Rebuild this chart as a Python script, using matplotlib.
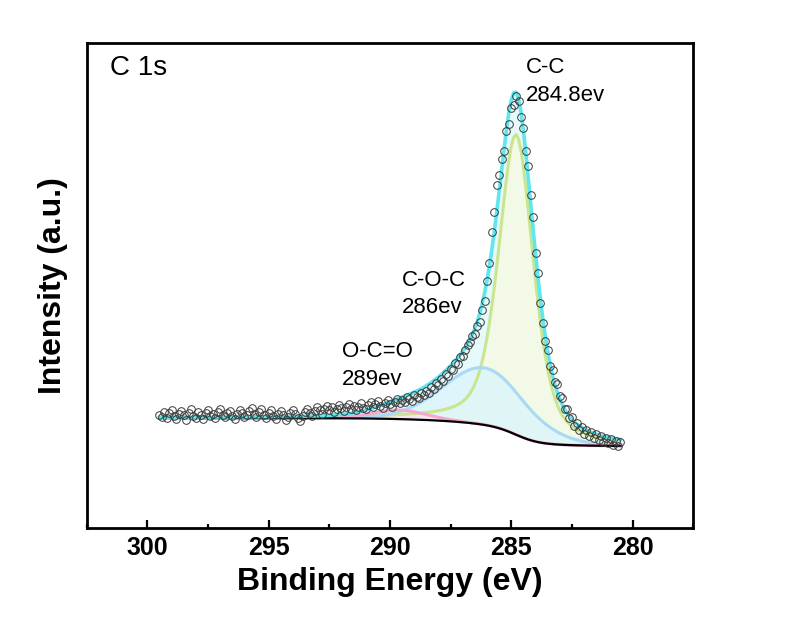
import numpy as np
import matplotlib
matplotlib.use('Agg')
import matplotlib.pyplot as plt
from matplotlib.ticker import MultipleLocator

plt.rcParams['font.family'] = ['Liberation Sans', 'DejaVu Sans']

# measured C 1s spectrum, 0.1 eV steps from 299.5 down to 280.5 eV
energy = np.round(np.arange(299.5, 280.45, -0.1), 1)
counts = [
    113, 111, 116, 110, 115, 118, 112, 109, 114, 117,
    113, 108, 115, 119, 112, 110, 116, 113, 109, 115,
    118, 112, 114, 110, 116, 119, 113, 111, 115, 117,
    112, 109, 114, 118, 115, 111, 113, 117, 120, 114,
    111, 116, 119, 113, 110, 115, 118, 112, 109, 114,
    117, 113, 108, 111, 115, 118, 114, 110, 107, 112,
    116, 119, 115, 112, 117, 121, 118, 114, 119, 122,
    118, 121, 116, 119, 123, 120, 117, 121, 124, 119,
    122, 118, 121, 125, 120, 119, 123, 126, 121, 124,
    127, 122, 120, 125, 128, 124, 121, 126, 129, 125,
    128, 126, 131, 129, 127, 133, 131, 130, 135, 133,
    137, 135, 141, 139, 145, 143, 149, 147, 154, 152,
    159, 158, 165, 164, 171, 172, 178, 183, 186, 192,
    194, 202, 206, 218, 227, 247, 265, 296, 316, 343,
    353, 369, 377, 397, 404, 420, 423, 432, 427, 411,
    400, 377, 362, 333, 311, 275, 255, 225, 205, 187,
    178, 162, 158, 146, 144, 132, 130, 119, 119, 110,
    111, 102, 105, 98, 101, 94, 98, 92, 96, 90,
    94, 88, 92, 86, 90, 85, 89, 83, 87, 82,
    86,
]

# fitted components (pseudo-Voigt): centre, height, FWHM, Lorentzian fraction
peak_names = ['C-C', 'C-O-C', 'O-C=O']
peak_centers = [284.8, 286.1, 289.6]
peak_heights = [300, 57, 9]
peak_fwhm = [1.7, 4.0, 2.6]
peak_lorentz = [0.5, 0.1, 0.2]
bg_high = 110   # Shirley background level, high BE side
bg_low = 82     # Shirley background level, low BE side

line_colors = ['#c9e68f', '#a9d9f5', '#f6a9d0']
fill_colors = ['#f6fbe2', '#dcf4fb', '#fbe3ef']


def pseudo_voigt(e, c, h, w, m):
    x = (e - c) / w
    return h * ((1 - m) * np.exp(-4 * np.log(2) * x ** 2) + m / (1 + 4 * x ** 2))


comps = [pseudo_voigt(energy, c, h, w, m)
         for c, h, w, m in zip(peak_centers, peak_heights, peak_fwhm, peak_lorentz)]
total = np.sum(comps, axis=0)

# Shirley background from the summed peaks
rev = total[::-1]
erev = energy[::-1]
cum = np.concatenate([[0], np.cumsum((rev[1:] + rev[:-1]) / 2 * np.diff(erev))])
background = (bg_low + (bg_high - bg_low) * cum / cum[-1])[::-1]
envelope = background + total

fig = plt.figure(figsize=(7.95, 6.4), dpi=100)
ax = fig.add_axes([0.109, 0.175, 0.763, 0.758])

ax.fill_between(energy, background, envelope, color='#e6fafc', lw=0, zorder=1)
for comp, fc in zip(comps, fill_colors):
    ax.fill_between(energy, background, background + comp, color=fc, alpha=0.8, lw=0, zorder=2)
for comp, lc in zip(comps, line_colors):
    ax.plot(energy, background + comp, color=lc, lw=2.2, zorder=3)
ax.plot(energy, background, color='black', lw=1.6, zorder=4)
ax.plot(energy, envelope, color='#5fe6ee', lw=2.6, zorder=5)
ax.plot(energy, counts, 'o', mfc='none', mec='#3a3a3a', ms=5.5, mew=0.7, zorder=6)

ax.set_xlim(302.5, 277.5)
ax.set_ylim(0, 485)
ax.xaxis.set_major_locator(MultipleLocator(5))
ax.xaxis.set_minor_locator(MultipleLocator(2.5))
ax.tick_params(axis='x', which='major', direction='in', length=6, width=1.6,
               labelsize=18, pad=6)
ax.tick_params(axis='x', which='minor', direction='in', length=3, width=1.6)
ax.tick_params(axis='y', left=False, labelleft=False)
for lab in ax.get_xticklabels():
    lab.set_fontweight('bold')
for sp in ax.spines.values():
    sp.set_linewidth(2)

ax.set_xlabel('Binding Energy (eV)', fontsize=23, fontweight='bold')
ax.set_ylabel('Intensity (a.u.)', fontsize=23, fontweight='bold')
ax.xaxis.set_label_coords(0.5, -0.08)
ax.yaxis.set_label_coords(-0.03, 0.5)

ax.text(0.038, 0.975, 'C 1s', transform=ax.transAxes, fontsize=20, va='top', ha='left')
ax.text(0.724, 0.97, 'C-C\n284.8ev', transform=ax.transAxes, fontsize=16,
        va='top', ha='left', linespacing=1.4)
ax.text(0.52, 0.532, 'C-O-C\n286ev', transform=ax.transAxes, fontsize=16,
        va='top', ha='left', linespacing=1.4)
ax.text(0.421, 0.385, 'O-C=O\n289ev', transform=ax.transAxes, fontsize=16,
        va='top', ha='left', linespacing=1.4)

fig.savefig('out.png', dpi=100)
